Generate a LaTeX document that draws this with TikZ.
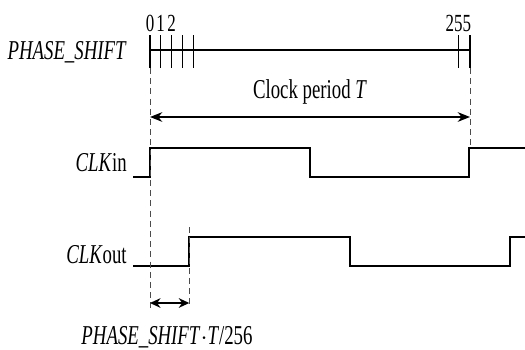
\documentclass[tikz,border=0pt]{standalone}
\usepackage{fontspec}
\setmainfont{Liberation Serif}[FakeStretch=0.69]
\usepackage{tikz}
\usetikzlibrary{arrows.meta,positioning}

\begin{document}
\begin{tikzpicture}[x=0.02cm, y=-0.02cm,
	sig/.style={line width=1.35pt, line join=miter},
	guide/.style={gray!60!black, line width=0.55pt, dash pattern=on 3.4pt off 2.4pt},
	lbl/.style={font=\fontsize{15.5}{18}\selectfont, inner sep=0pt},
	num/.style={font=\fontsize{14}{16}\selectfont, inner sep=0pt, anchor=south}]
		\useasboundingbox (0,0) rectangle (525,349);
		\pgfmathsetmacro{\inHi}{148}
		\pgfmathsetmacro{\inLo}{177}
		\pgfmathsetmacro{\outHi}{237}
		\pgfmathsetmacro{\outLo}{266}
		\coordinate (P0) at (150,50);
		\coordinate (P255) at (470,50);
		\coordinate (D) at (189.3,\outLo);
		\node[lbl, anchor=east] (phase) at (127,52) {\textit{PHASE\_SHIFT}};
		\node[lbl, anchor=east] (clkin) at (127,163) {\textit{CLK}in};
		\node[lbl, anchor=east] (clkout) at (127,255) {\textit{CLK}out};
		\draw[line width=0.6pt] (P0) -- (P255);
		\foreach \x/\t in {150/0, 160.7/1, 171.7/2, 182.7/, 193.3/, 458.3/255, 470/}
			\draw[line width=0.6pt] (\x,35) -- (\x,68) node[num, pos=0, yshift=1.5pt] {\t};
		\draw[sig] (133,\inLo) -- (150,\inLo) -- (150,\inHi) -- (310,\inHi) -- (310,\inLo)
			-- (469,\inLo) -- (469,\inHi) -- (525,\inHi);
		\draw[sig] (133,\outLo) -- (D) -- (189.3,\outHi) -- (350,\outHi) -- (350,\outLo)
			-- (510,\outLo) -- (510,\outHi) -- (525,\outHi);
		\coordinate (G0) at (150,308);
		\coordinate (G1) at (189.3,308);
		\coordinate (GT) at (470,\inHi);
		\draw[guide] (150,68) -- (G0);
		\draw[guide] (470,68) -- (GT);
		\draw[guide] (189.3,227) -- (G1);
		\coordinate (A) at (150,117);
		\coordinate (B) at (470,117);
		\draw[{Stealth[length=7pt,width=5.5pt]}-{Stealth[length=7pt,width=5.5pt]}, line width=0.8pt] (A) -- (B)
			node[lbl, midway, above=7pt] (period) {Clock period \textit{T}};
		\coordinate (C) at (150,303);
		\coordinate (E) at (189.3,303);
		\draw[{Stealth[length=6pt,width=5.5pt]}-{Stealth[length=6pt,width=5.5pt]}, line width=0.8pt] (C) -- (E);
		\node[lbl] (shift) at (167,337) {\textit{PHASE\_SHIFT}$\cdot$\textit{T}/256};
	\end{tikzpicture}
\end{document}
